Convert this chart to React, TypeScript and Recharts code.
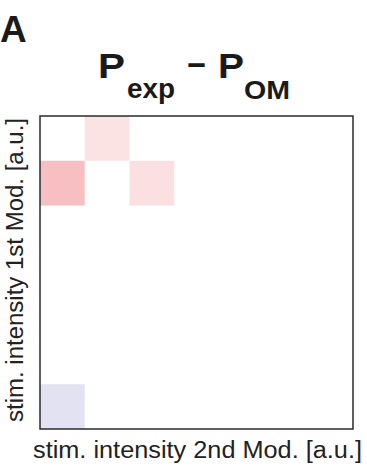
import { ReferenceArea, Scatter, ScatterChart, XAxis, YAxis } from "recharts";

// 7 x 7 grid of stimulus-intensity bins for the two modalities
const xBins = [0, 1, 2, 3, 4, 5, 6];
const yBins = [0, 1, 2, 3, 4, 5, 6];

// P_exp - P_OM, rows listed from the highest 1st-mod intensity (top) down
const diffRows = [
  [0, 0.13, 0, 0, 0, 0, 0],
  [0.29, 0, 0.14, 0, 0, 0, 0],
  [0, 0, 0, 0, 0, 0, 0],
  [0, 0, 0, 0, 0, 0, 0],
  [0, 0, 0, 0, 0, 0, 0],
  [0, 0, 0, 0, 0, 0, 0],
  [-0.15, 0, 0, 0, 0, 0, 0],
];

const POS = [227, 36, 43];
const NEG = [62, 62, 168];

function diffColor(v: number) {
  const end = v >= 0 ? POS : NEG;
  const t = Math.min(1, Math.abs(v));
  const c = end.map((e) => Math.round(255 + (e - 255) * t));
  return `rgb(${c[0]},${c[1]},${c[2]})`;
}

const FONT = "'Liberation Sans', Arial, sans-serif";

export default function App() {
  const cells = yBins.flatMap((yi) =>
    xBins.map((xi) => {
      const v = diffRows[yBins.length - 1 - yi][xi];
      return { xi, yi, v, x: xi + 0.5, y: yi + 0.5 };
    })
  );

  return (
    <div style={{ position: "absolute", left: 0, top: 0, width: 367, height: 470, background: "#fff" }}>
      <ScatterChart width={367} height={470} margin={{ top: 116, right: 14, bottom: 41, left: 40 }}>
        <XAxis type="number" dataKey="x" domain={[0, 7]} hide />
        <YAxis type="number" dataKey="y" domain={[0, 7]} hide />
        {cells
          .filter((c) => c.v !== 0)
          .map((c) => (
            <ReferenceArea
              key={`${c.xi}-${c.yi}`}
              x1={c.xi}
              x2={c.xi + 1}
              y1={c.yi}
              y2={c.yi + 1}
              fill={diffColor(c.v)}
              fillOpacity={1}
              stroke="none"
            />
          ))}
        <ReferenceArea x1={0} x2={7} y1={0} y2={7} fill="none" stroke="#2b2b2b" strokeWidth={1.5} />
        {/* bin centres, kept so the chart has data to lay out its axes */}
        <Scatter data={cells} shape={() => <g />} isAnimationActive={false} />
      </ScatterChart>
      <svg
        width={367}
        height={470}
        style={{ position: "absolute", left: 0, top: 0, pointerEvents: "none" }}
        fontFamily={FONT}
      >
        <text x={0} y={42} fontSize={37} fontWeight="bold" fill="#1a1a1a">A</text>
        <g fontWeight="bold" fill="#1a1a1a">
          <text x={98} y={78} fontSize={35} textLength={27} lengthAdjust="spacingAndGlyphs">P</text>
          <text x={127} y={98} fontSize={28} textLength={48} lengthAdjust="spacingAndGlyphs">exp</text>
          <text x={187} y={77} fontSize={35} textLength={19} lengthAdjust="spacingAndGlyphs">−</text>
          <text x={218} y={78} fontSize={35} textLength={26} lengthAdjust="spacingAndGlyphs">P</text>
          <text x={244} y={99} fontSize={25} textLength={46} lengthAdjust="spacingAndGlyphs">OM</text>
        </g>
        <text x={33} y={458} fontSize={23} textLength={329} lengthAdjust="spacingAndGlyphs" fill="#222">
          stim. intensity 2nd Mod. [a.u.]
        </text>
        <text
          x={0}
          y={0}
          fontSize={23}
          textLength={304}
          lengthAdjust="spacingAndGlyphs"
          fill="#222"
          transform="translate(23 422) rotate(-90)"
        >
          stim. intensity 1st Mod. [a.u.]
        </text>
      </svg>
    </div>
  );
}
